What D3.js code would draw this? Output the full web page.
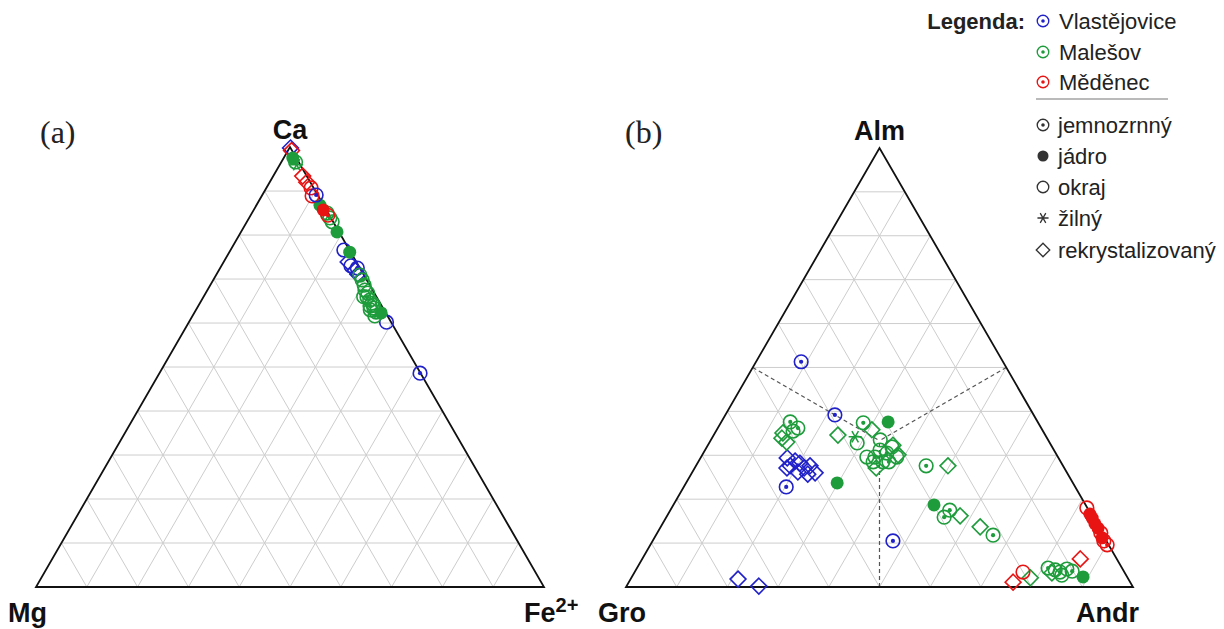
<!DOCTYPE html>
<html><head><meta charset="utf-8">
<script src="https://cdn.jsdelivr.net/npm/d3@7"></script>
<style>body{margin:0;background:#fff}svg{display:block}</style>
</head><body>
<svg id="c" width="1224" height="629"></svg>
<script>
// ---------- data ----------
const locColors = {V:"#2121c9", M:"#1e9c3c", R:"#e81414"};
const locNames = [["V","Vlastějovice"],["M","Malešov"],["R","Měděnec"]];
const typeNames = [["j","jemnozrnný"],["c","jádro"],["o","okraj"],["z","žilný"],["r","rekrystalizovaný"]];
const gridSteps = [10,20,30,40,50,60,70,80,90];
// panel (a): [locality, type, Ca %, Fe2+ %]  (Mg = rest)
const pointsA = [
 ["V","r",99.8,0.2],["R","r",99.2,0.7],
 ["V","o",76.6,22.3],["V","r",73.9,24.5],["V","o",73.0,25.5],["V","r",72.0,26.8],["V","r",71.1,27.8],["V","j",72.5,27.0],
 ["V","o",60.2,38.9],["V","j",48.6,51.3],
 ["M","c",97.5,1.8],["M","o",96.6,2.8],["M","z",96.0,3.3],
 ["M","c",86.8,12.5],["M","o",85.0,14.8],["M","j",83.9,15.9],["M","o",83.0,16.8],["M","c",80.7,18.9],["M","c",76.1,23.7],
 ["M","o",70.9,28.3],["M","j",69.8,29.3],["M","o",68.6,30.3],["M","o",67.5,31.0],["M","o",66.8,31.9],["M","j",65.9,32.2],
 ["M","o",66.0,31.5],["M","o",65.2,33.1],["M","o",64.5,33.9],["M","j",63.9,33.8],["M","o",64.0,34.5],["M","o",63.4,34.8],
 ["M","o",63.0,34.3],["M","o",62.5,35.7],["M","j",61.6,35.9],["M","c",62.3,36.8],
 ["R","r",93.4,5.8],["R","r",92.0,7.3],["R","o",90.7,8.8],["R","o",88.9,9.9],["V","j",89.1,10.6],
 ["R","c",85.7,13.7],["R","j",84.5,15.2]
];
// panel (b): [locality, type, Alm %, Andr %]  (Gro = rest)
const pointsB = [
 ["V","j",51.3,8.9],["V","j",39.2,21.6],["V","j",22.8,20.2],["V","j",10.5,47.4],
 ["V","r",29.4,17.1],["V","r",28.7,19.0],["V","r",27.6,18.6],["V","r",28.2,20.2],["V","r",27.1,21.6],
 ["V","r",27.6,22.5],["V","r",26.0,24.3],["V","r",26.2,20.8],["V","r",27.1,18.2],["V","r",25.7,23.0],
 ["V","r",1.8,21.2],["V","r",0.2,26.1],
 ["M","j",37.6,13.6],["M","j",36.2,15.8],["M","o",35.5,15.2],["M","r",35.1,13.4],["M","r",33.0,15.2],["M","r",33.9,13.8],
 ["M","r",34.6,24.5],["M","z",34.2,28.1],["M","o",32.8,29.2],["M","j",37.4,28.1],["M","r",35.8,30.6],["M","o",33.5,33.4],
 ["M","c",37.6,32.9],["M","o",29.6,32.7],["M","j",29.6,34.3],["M","o",31.2,34.5],["M","j",30.5,36.2],["M","o",31.9,36.5],
 ["M","o",29.6,38.6],["M","o",28.5,36.4],["M","j",28.5,37.6],["M","r",32.3,36.5],["M","r",30.1,38.6],["M","r",27.1,35.8],
 ["M","o",28.5,34.5],["M","c",23.7,29.8],
 ["M","j",27.6,45.4],["M","r",27.6,49.7],["M","c",18.7,51.4],["M","j",17.5,55.1],["M","j",15.9,54.8],["M","r",16.2,57.8],
 ["M","r",13.7,63.0],["M","j",11.8,66.5],
 ["M","j",4.3,81.1],["M","o",3.9,82.7],["M","j",3.4,83.9],["M","o",4.1,84.9],["M","j",3.6,86.2],["M","r",3.2,82.4],
 ["M","o",2.7,84.6],["M","c",2.3,89.0],["M","r",2.1,78.7],
 ["R","o",18.0,81.9],["R","c",16.6,83.2],["R","c",15.7,84.1],["R","c",14.4,85.3],["R","c",13.4,86.4],["R","j",12.3,87.5],
 ["R","c",11.2,88.3],["R","o",10.5,89.0],["R","j",9.6,90.1],["R","r",6.4,86.4],["R","o",3.4,76.6],["R","r",1.1,75.8]
];
const panels = [
 {id:"a", letter:"(a)", left:"Mg", right:"Fe", rightSup:"2+", top:"Ca", pts:pointsA, x0:36, x1:544, yb:587, letterX:40, dashed:false},
 {id:"b", letter:"(b)", left:"Gro", right:"Andr", rightSup:"", top:"Alm", pts:pointsB, x0:626, x1:1133, yb:587, letterX:625, dashed:true}
];

// ---------- drawing ----------
const svg = d3.select("#c");
const H3 = Math.sqrt(3)/2;

function marker(g, type, color, x, y, s) {
  s = s || 1;
  if (type === "j" || type === "o") {
    g.append("circle").attr("cx",x).attr("cy",y).attr("r",6.8*s)
      .attr("fill","none").attr("stroke",color).attr("stroke-width",1.6*s);
    if (type === "j") g.append("circle").attr("cx",x).attr("cy",y).attr("r",2.1*s).attr("fill",color);
  } else if (type === "c") {
    g.append("circle").attr("cx",x).attr("cy",y).attr("r",6.5*s).attr("fill",color);
  } else if (type === "r") {
    g.append("path").attr("transform",`translate(${x},${y})`)
      .attr("d", d3.symbol(d3.symbolDiamond2 || d3.symbolDiamond, 160*s*s)())
      .attr("fill","none").attr("stroke",color).attr("stroke-width",1.6*s);
  } else if (type === "z") {
    g.append("path").attr("transform",`translate(${x},${y}) rotate(90)`)
      .attr("d", d3.symbol(d3.symbolAsterisk, 120*s*s)())
      .attr("fill","none").attr("stroke",color).attr("stroke-width",1.5*s);
  }
}

panels.forEach(p => {
  const ht = (p.x1 - p.x0) * H3;
  const sx = d3.scaleLinear().domain([0,1]).range([p.x0, p.x1]);
  const sy = d3.scaleLinear().domain([0,H3]).range([p.yb, p.yb - ht]);
  // ternary (top, right) in % -> px
  const P = (top, right) => { const t=top/100, r=right/100; return [sx(r + t/2), sy(t*H3)]; };
  const g = svg.append("g");
  const line = d3.line();
  gridSteps.forEach(v => {
    const segs = [
      [P(v,0), P(v,100-v)],
      [P(0,v), P(100-v,v)],
      [P(0,100-v), P(100-v,0)]
    ];
    segs.forEach(sg => g.append("path").attr("d", line(sg)).attr("stroke","#cdcdcd").attr("stroke-width",1).attr("fill","none"));
  });
  if (p.dashed) {
    const c = P(100/3,100/3);
    [P(50,0), P(50,50), P(0,50)].forEach(m => g.append("path").attr("d", line([m,c]))
      .attr("stroke","#555").attr("stroke-width",1.2).attr("stroke-dasharray","4,3").attr("fill","none"));
  }
  g.append("path").attr("d", line([P(0,0),P(0,100),P(100,0)]) + "Z")
    .attr("fill","none").attr("stroke","#111").attr("stroke-width",1.8).attr("stroke-linejoin","miter");
  const mg = g.append("g");
  p.pts.forEach(d => { const [x,y] = P(d[2], d[3]); marker(mg, d[1], locColors[d[0]], x, y); });
  const font = "Liberation Sans, Arial, sans-serif";
  const top = P(100,0);
  g.append("text").attr("x", top[0]).attr("y", top[1]-8).attr("text-anchor","middle")
    .attr("font-family",font).attr("font-weight","bold").attr("font-size",27).attr("fill","#111").text(p.top);
  const lp = P(0,0);
  g.append("text").attr("x", lp[0]-28).attr("y", lp[1]+35)
    .attr("font-family",font).attr("font-weight","bold").attr("font-size",27).attr("fill","#111").text(p.left);
  const rp = P(0,100);
  const rt = g.append("text").attr("x", rp[0] + (p.rightSup ? -20 : -57)).attr("y", rp[1]+35)
    .attr("font-family",font).attr("font-weight","bold").attr("font-size",27).attr("fill","#111");
  rt.append("tspan").text(p.right);
  if (p.rightSup) rt.append("tspan").attr("dy",-10).attr("font-size",20).text(p.rightSup);
  g.append("text").attr("x", p.letterX).attr("y", 143)
    .attr("font-family","Liberation Serif, Times New Roman, serif").attr("font-size",32).attr("fill","#222").text(p.letter);
});

// ---------- legend ----------
const lg = svg.append("g").attr("font-family","Liberation Sans, Arial, sans-serif").attr("font-size",22).attr("fill","#222");
lg.append("text").attr("x",1025).attr("y",29).attr("text-anchor","end").attr("font-weight","bold").text("Legenda:");
const locRows = [21,52,82];
locNames.forEach((d,i) => {
  marker(lg, "j", locColors[d[0]], 1043, locRows[i], 0.85);
  lg.append("text").attr("x",1059).attr("y",locRows[i]+8).text(d[1]);
});
lg.append("line").attr("x1",1036).attr("x2",1168).attr("y1",99).attr("y2",99).attr("stroke","#777").attr("stroke-width",1.2);
const typeRows = [125,156,187,218,250];
typeNames.forEach((d,i) => {
  marker(lg, d[0], "#333", 1043, typeRows[i], 0.85);
  lg.append("text").attr("x",1058).attr("y",typeRows[i]+8).text(d[1]);
});
</script>
</body></html>
